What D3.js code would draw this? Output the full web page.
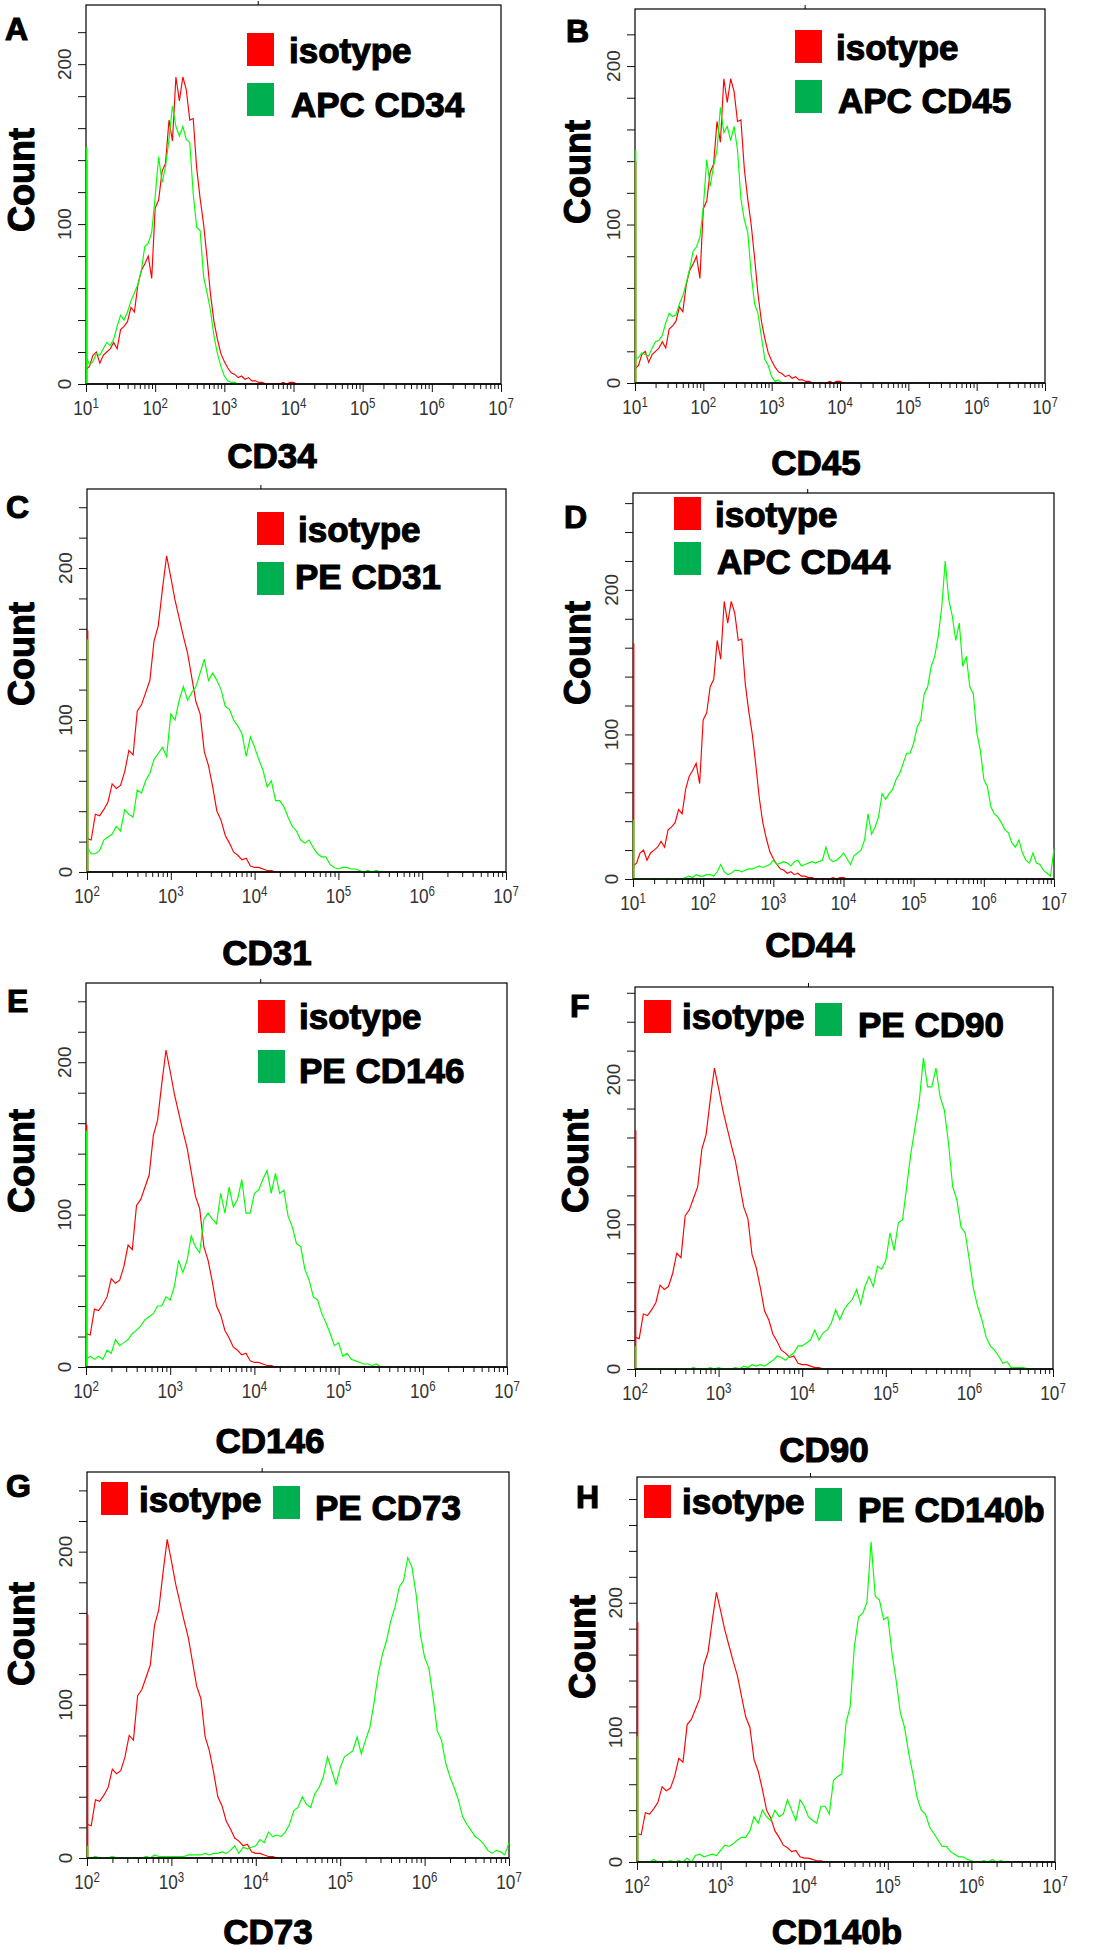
<!DOCTYPE html>
<html><head><meta charset="utf-8">
<script src="https://cdn.jsdelivr.net/npm/d3@7"></script>
<style>
body{margin:0;background:#fff}
svg{display:block}
text{font-family:"Liberation Sans",Arial,Helvetica,sans-serif}
.heavy{font-weight:bold;stroke:#000;stroke-width:1.1;paint-order:stroke}
</style>
</head><body>
<svg id="c" width="1105" height="1950"></svg>
<script>
// ---------------- DATA ----------------
const BIN = 0.05;                       // histogram bin width, in decades
const panelIds = ['A','B','C','D','E','F','G','H'];
const markerNames = ['CD34','CD45','CD31','CD44','CD146','CD90','CD73','CD140b'];
const greenLabels = ['APC CD34','APC CD45','PE CD31','APC CD44','PE CD146','PE CD90','PE CD73','PE CD140b'];
const redLabel = 'isotype';
const xMinExp = [1,1,2,1,2,2,2,2];
const xMaxExp = 7;
const yMax = [237,236,252,267,252,264,252,297];
const yTickStep = 20;
const yLabelValues = [0,100,200];

// counts in the first channel (pile-up at the left edge)
const redSpike   = [140,140,159,163,159,165,159,185];
const greenSpike = [148,147,153,41,155,16,8,97];

// isotype controls (start at 10^1 for APC, 10^2 for PE)
const isoAPC = [9,11,18,20,13,18,20,22,26,22,
  34,36,39,48,45,62,71,75,80,66,
  110,115,133,138,165,152,192,177,192,184,
  165,166,135,116,100,79,56,39,28,19,
  14,10,7,6,4,5,3,4,2,2,
  1,1,0,0,0,0,0,1,0,1,1,0];
const isoPE = [22,21,38,37,41,46,58,55,57,66,
  80,77,106,110,118,126,152,162,186,208,
  194,179,167,155,144,128,112,104,79,70,
  56,40,34,24,19,13,11,8,9,4,
  3,3,2,1,1,0];

// stained samples
const cd34 = [17,12,14,19,18,22,26,24,28,36,
  43,40,45,52,57,62,71,86,88,95,
  117,142,126,136,153,174,161,155,161,153,
  151,119,98,96,67,57,46,30,19,11,
  5,2,1,1,0];
const cd45 = [15,16,19,18,17,22,26,27,30,38,
  44,42,43,50,55,63,72,83,86,92,
  111,141,124,137,147,174,158,162,153,162,
  147,116,103,95,69,50,44,29,15,11,
  4,1,2,0];
const cd31 = [16,12,12,14,21,23,25,30,27,41,
  38,36,54,52,60,65,74,78,82,76,
  104,100,113,122,113,118,122,131,140,126,
  131,126,120,109,107,100,96,91,76,89,
  82,74,67,56,60,47,47,43,36,30,
  27,21,19,21,16,12,10,10,5,3,
  2,3,3,2,2,1,0,1,0,1,0];
const cd44 = [0,0,0,0,0,0,0,0,0,0,
  0,0,0,0,0,1,2,1,3,2,
  2,3,3,2,5,10,5,3,4,6,
  6,5,6,7,7,8,9,8,9,10,
  13,10,11,12,11,9,12,13,9,10,
  11,12,11,12,13,22,14,12,13,15,
  18,14,10,16,18,20,27,45,31,36,
  43,59,55,59,62,69,73,80,87,87,
  94,105,110,128,133,147,154,168,188,220,
  193,182,165,177,147,154,133,128,101,89,
  69,64,50,45,43,39,34,32,25,22,
  27,18,13,11,18,11,10,6,4,2,
  21];
const cd146 = [5,7,5,7,5,11,9,18,14,16,
  18,22,24,27,31,33,35,40,40,46,
  44,53,70,62,70,86,79,75,97,101,
  97,94,114,101,118,105,110,123,101,101,
  114,116,123,129,114,127,114,116,99,92,
  81,79,64,57,46,44,35,29,22,14,
  16,7,9,5,4,3,2,2,1,2,0];
const cd90 = [0,0,0,0,0,0,0,0,0,0,
  0,0,0,0,1,0,0,0,1,0,
  1,0,0,0,1,0,2,1,3,2,
  3,2,4,6,9,8,6,9,11,16,
  16,18,20,27,20,25,27,32,41,34,
  41,45,48,55,45,57,64,57,71,69,
  75,94,82,101,103,126,149,167,185,215,
  195,195,208,188,179,156,126,117,98,94,
  75,55,43,34,22,16,13,9,4,5,
  1,1,1,1,0];
const cd73 = [0,0,1,0,0,0,1,0,0,0,
  0,0,0,0,1,0,2,1,1,1,
  1,1,1,1,2,2,2,2,3,2,
  3,3,4,3,5,8,3,7,6,7,
  8,12,10,17,14,15,14,17,22,31,
  33,40,35,33,42,46,53,66,57,48,
  59,66,68,70,79,68,77,85,101,120,
  133,142,155,164,177,181,196,190,172,146,
  131,124,105,83,77,62,53,46,38,27,
  22,18,14,12,9,5,3,5,4,2,
  10];
const cd140b = [0,0,0,0,2,0,0,0,1,0,
  1,0,3,0,5,6,4,5,6,5,
  9,13,12,14,17,19,19,24,35,30,
  40,35,32,40,35,37,48,40,32,48,
  43,35,32,30,43,43,37,63,66,68,
  107,120,166,189,192,200,247,205,202,187,
  189,161,140,115,104,84,68,50,40,37,
  27,22,17,12,12,8,6,4,4,2,
  1,0,0,1,0,2,0,1,0];

const redSeries   = [isoAPC, isoAPC, isoPE, isoAPC, isoPE, isoPE, isoPE, isoPE];
const greenSeries = [cd34, cd45, cd31, cd44, cd146, cd90, cd73, cd140b];

// ---------------- LAYOUT ----------------
const layout = [
 {l:86,   r:501,   t:5,     b:384,    letter:[5,40],    count:[34,180],  xlab:[272,468],
  rs:[247,33],  rt:[289,63],   gs:[247,83],   gt:[291,117]},
 {l:635,  r:1045,  t:9,     b:383,    letter:[566,42],  count:[590,172], xlab:[816,475],
  rs:[795,30],  rt:[836,60],   gs:[795,80],   gt:[838,113]},
 {l:87,   r:506,   t:489,   b:872,    letter:[6,518],   count:[34,654],  xlab:[267,965],
  rs:[257,512], rt:[298,542],  gs:[257,562],  gt:[295,589]},
 {l:633,  r:1054,  t:493,   b:879,    letter:[564,528], count:[590,653], xlab:[810,957],
  rs:[674,497], rt:[715,527],  gs:[674,542],  gt:[717,574]},
 {l:86,   r:507,   t:983,   b:1367,   letter:[7,1012],  count:[34,1161], xlab:[270,1453],
  rs:[258,1000],rt:[299,1029], gs:[258,1050], gt:[299,1083]},
 {l:635,  r:1053,  t:987,   b:1369,   letter:[570,1017],count:[588,1161],xlab:[824,1462],
  rs:[644,1000],rt:[682,1029], gs:[815,1003], gt:[858,1037]},
 {l:87,   r:509,   t:1472,  b:1858,   letter:[6,1497],  count:[34,1634], xlab:[268,1944],
  rs:[101,1482],rt:[139,1512], gs:[273,1486], gt:[315,1520]},
 {l:637,  r:1055,  t:1477,  b:1862,   letter:[576,1508],count:[595,1647],xlab:[837,1944],
  rs:[644,1485],rt:[682,1514], gs:[815,1488], gt:[858,1522]}
];
const RED = '#ff0000', GREEN = '#00ff00', LEG_GREEN = '#00b050';

// ---------------- DRAW ----------------
const svg = d3.select('#c');
const defs = svg.append('defs');

layout.forEach((L, i) => {
  const g = svg.append('g');
  const x = d3.scaleLog().domain([10 ** xMinExp[i], 10 ** xMaxExp]).range([L.l, L.r]);
  const y = d3.scaleLinear().domain([0, yMax[i]]).range([L.b, L.t]);

  defs.append('clipPath').attr('id', 'clip' + i)
    .append('rect').attr('x', L.l - 1).attr('y', L.t).attr('width', L.r - L.l + 2).attr('height', L.b - L.t);

  // frame
  g.append('rect').attr('x', L.l).attr('y', L.t).attr('width', L.r - L.l).attr('height', L.b - L.t)
    .attr('fill', 'none').attr('stroke', '#000').attr('stroke-width', 1.2);
  // small mark above frame
  const mx = L.l + 0.415 * (L.r - L.l);
  g.append('line').attr('x1', mx).attr('x2', mx).attr('y1', L.t - 4).attr('y2', L.t)
    .attr('stroke', '#000').attr('stroke-width', 1);

  // y axis
  const yAxis = d3.axisLeft(y).tickValues(d3.range(0, yMax[i] + 0.001, yTickStep)).tickSize(8).tickFormat('');
  g.append('g').attr('transform', `translate(${L.l},0)`).call(yAxis)
    .call(s => { s.select('.domain').remove(); s.selectAll('line').attr('stroke', '#111'); });
  yLabelValues.forEach(v => {
    g.append('text').attr('transform', `translate(${L.l - 15},${y(v)}) rotate(-90)`)
      .attr('text-anchor', 'middle').attr('font-size', 19).attr('fill', '#333').text(v);
  });

  // x axis
  const minor = [];
  for (let k = xMinExp[i]; k < xMaxExp; k++) for (let m = 2; m <= 9; m++) minor.push(m * 10 ** k);
  const majorExp = d3.range(xMinExp[i], xMaxExp + 1);
  const major = majorExp.map(k => 10 ** k);
  g.append('g').attr('transform', `translate(0,${L.b})`)
    .call(d3.axisBottom(x).tickValues(minor).tickSize(5).tickFormat(''))
    .call(s => { s.select('.domain').remove(); s.selectAll('line').attr('stroke', '#111'); });
  g.append('g').attr('transform', `translate(0,${L.b})`)
    .call(d3.axisBottom(x).tickValues(major).tickSize(8).tickFormat(''))
    .call(s => { s.select('.domain').remove(); s.selectAll('line').attr('stroke', '#111'); });
  major.forEach((v, j) => {
    const t = g.append('text').attr('transform', `translate(${x(v)},${L.b + 31}) scale(0.82,1)`)
      .attr('text-anchor', 'middle').attr('font-size', 21).attr('fill', '#333');
    t.append('tspan').text('10');
    t.append('tspan').attr('dy', -7).attr('font-size', 14).text(majorExp[j]);
  });

  // histograms
  const toPts = (arr, s) => arr.map((v, k) => ({ e: s + k * BIN, v }));
  const line = d3.line().x(d => x(10 ** d.e)).y(d => y(d.v)).curve(d3.curveLinear);
  const curves = g.append('g').attr('clip-path', `url(#clip${i})`);
  [[redSeries[i], redSpike[i], RED], [greenSeries[i], greenSpike[i], GREEN]].forEach(([arr, spike, col]) => {
    curves.append('path').datum(toPts(arr, xMinExp[i])).attr('d', line)
      .attr('fill', 'none').attr('stroke', col).attr('stroke-width', 1.15).attr('stroke-linejoin', 'miter');
    curves.append('line').attr('x1', x(10 ** xMinExp[i]) + 0.6).attr('x2', x(10 ** xMinExp[i]) + 0.6)
      .attr('y1', y(0)).attr('y2', y(spike)).attr('stroke', col).attr('stroke-width', 1.6);
  });
  // baseline on top
  g.append('line').attr('x1', L.l).attr('x2', L.r).attr('y1', L.b).attr('y2', L.b)
    .attr('stroke', '#000').attr('stroke-width', 1.6);

  // legend
  g.append('rect').attr('x', L.rs[0]).attr('y', L.rs[1]).attr('width', 27).attr('height', 33).attr('fill', RED);
  g.append('rect').attr('x', L.gs[0]).attr('y', L.gs[1]).attr('width', 27).attr('height', 33).attr('fill', LEG_GREEN);
  g.append('text').attr('class', 'heavy').attr('x', L.rt[0]).attr('y', L.rt[1]).attr('font-size', 35).text(redLabel);
  g.append('text').attr('class', 'heavy').attr('x', L.gt[0]).attr('y', L.gt[1]).attr('font-size', 35).text(greenLabels[i]);

  // panel letter
  g.append('text').attr('class', 'heavy').attr('x', L.letter[0]).attr('y', L.letter[1]).attr('font-size', 32).text(panelIds[i]);
  // y title
  g.append('text').attr('class', 'heavy').attr('transform', `translate(${L.count[0]},${L.count[1]}) rotate(-90)`)
    .attr('text-anchor', 'middle').attr('font-size', 36).text('Count');
  // x title
  g.append('text').attr('class', 'heavy').attr('x', L.xlab[0]).attr('y', L.xlab[1]).attr('text-anchor', 'middle')
    .attr('font-size', 35).text(markerNames[i]);
});
</script>
</body></html>
